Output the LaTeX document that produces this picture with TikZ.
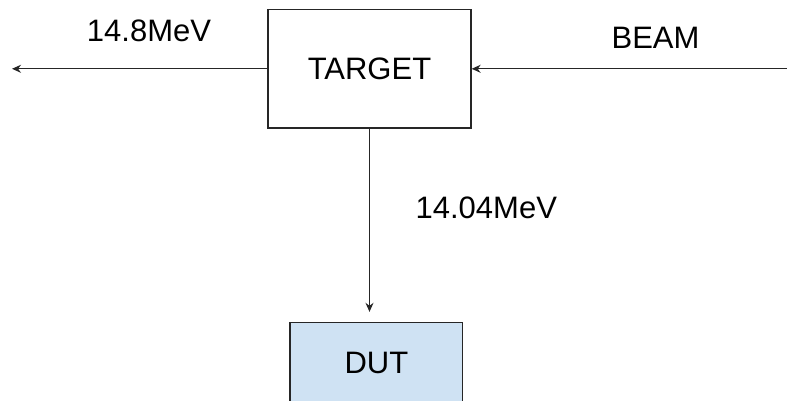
\documentclass[tikz,border=0pt]{standalone}
\usepackage{fontspec}
\setmainfont{Liberation Sans}
\usetikzlibrary{arrows.meta}
\definecolor{dutblue}{RGB}{207,226,243}

\begin{document}
\begin{tikzpicture}[x=1pt, y=-1pt, >={Stealth[length=9pt,width=8pt]},
    font=\fontsize{31}{37}\selectfont,
    block/.style={draw=black!85, line width=1.3pt, inner sep=0pt},
    flow/.style={->, line width=1.3pt, draw=black!85}]
    \useasboundingbox (0,0) rectangle (787,401);

    % define coordinates
    \coordinate (BeamSrc) at (787,68.8); % incoming beam
    \coordinate (OutEnd) at (12,68.8); % outgoing end

    % boxes
    \node[block, minimum width=203pt, minimum height=118.5pt] (target) at (369.5,68.8) {TARGET};
    \node[block, fill=dutblue, minimum width=172.7pt, minimum height=80pt] (dut) at (376.4,362.5) {DUT};

    % beam into target
    \draw[flow] (BeamSrc) -- (target.east);
    \node (beamlbl) at (655.5,38.3) {BEAM};

    % forward neutrons
    \draw[flow] (target.west) -- (OutEnd);
    \node (fwdlbl) at (149,31.2) {14.8MeV};

    % neutrons to the DUT
    \draw[flow, shorten >=10pt] (target.south) -- (target.south |- dut.north);
    \node (dutlbl) at (486.3,207.5) {14.04MeV};

\end{tikzpicture}
\end{document}
